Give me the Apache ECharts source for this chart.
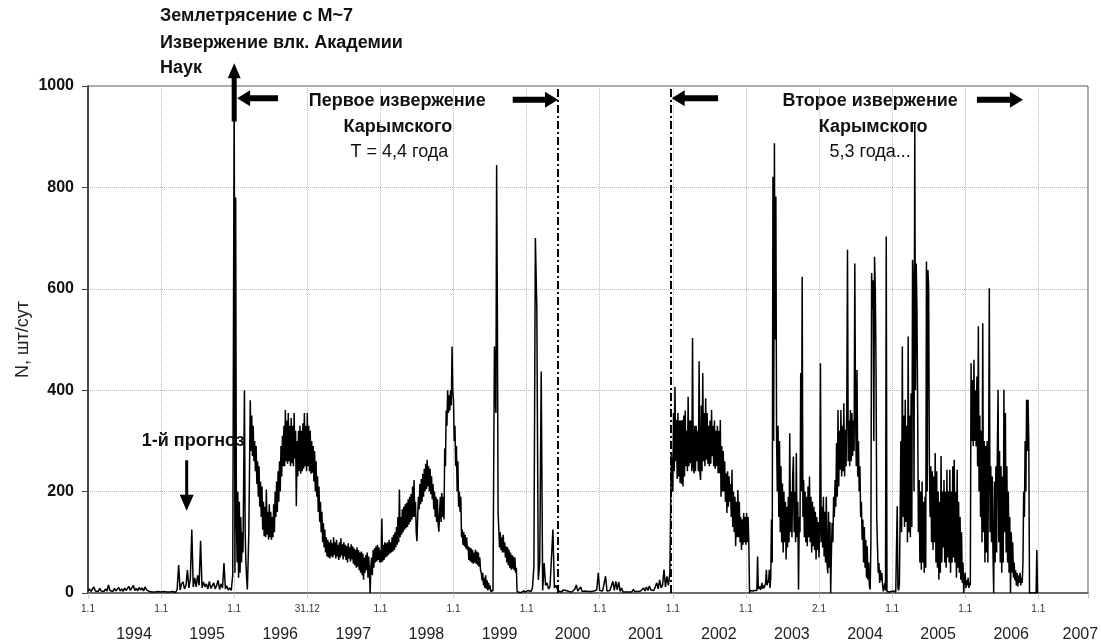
<!DOCTYPE html>
<html>
<head>
<meta charset="utf-8">
<script src="https://cdn.jsdelivr.net/npm/echarts@6/dist/echarts.min.js"></script>
<style>
  html, body { margin: 0; padding: 0; background: #fff; }
  #chart { width: 1101px; height: 643px; }
</style>
</head>
<body>
<div id="chart"></div>
<script>
// Number of events per day (N, шт/сут). One array per calendar year;
// samples are spread evenly over the year (50 per year in quiet years, 100 in active ones).
const n1994 = [4,8,3,6,12,4,7,3,9,4, 6,3,8,4,16,5,7,3,9,4, 6,11,4,8,3,10,5,4,13,5, 7,15,5,9,4,11,6,10,4,12, 6,9,3,5,2,1,2,1,3,6];
const n1995 = [2,1,3,1,2,1,2,1,3,2, 1,8,55,6,18,22,8,15,45,10, 28,125,12,30,12,35,15,103,10,22, 12,18,8,23,9,14,20,8,15,25, 7,18,10,59,8,14,6,10,5,36];
const n1996 = [
  1000,40,780,150,60,200,30,180,40,150,
  60,120,80,230,400,120,60,30,7,60,
  120,250,380,280,350,270,330,260,300,240,
  290,215,260,190,250,170,220,150,210,125,
  180,112,170,110,204,115,160,105,175,110,
  160,105,150,110,175,120,200,150,220,160,
  240,180,260,200,290,230,310,250,330,250,
  361,260,340,255,355,260,330,250,345,256,
  330,250,355,265,320,171,300,230,320,240,
  330,235,320,240,335,245,355,250,330,240];
const n1997 = [
  355,250,330,240,320,235,300,237,290,220,
  280,200,260,190,230,160,210,140,180,120,
  160,100,138,90,125,80,110,72,105,70,
  100,68,105,72,98,70,110,75,100,68,
  105,72,95,65,100,70,108,74,96,66,
  100,72,95,65,92,60,98,68,90,62,
  96,66,92,58,88,55,85,50,90,52,
  85,45,80,40,82,35,78,26,70,40,
  75,45,80,30,72,40,0,55,70,35,
  85,50,88,60,92,62,95,65,90,60];
const n1998 = [
  85,60,147,62,95,65,100,70,98,72,
  100,75,105,78,100,80,110,82,115,85,
  120,90,130,95,150,100,204,110,150,115,
  165,120,170,125,175,128,178,130,185,135,
  190,140,195,145,210,150,223,150,180,120,
  102,150,190,165,215,175,225,180,235,190,
  245,200,255,205,263,210,250,200,245,195,
  230,185,215,165,200,150,190,140,185,135,
  121,160,190,140,197,150,190,145,285,250,
  360,330,400,355,390,360,400,370,486,400];
const n1999 = [
  380,300,330,250,290,200,260,170,200,160,
  190,110,125,95,120,92,115,88,110,85,
  92,65,90,62,88,60,85,58,80,60,
  85,58,82,55,80,52,70,45,40,25,
  40,15,30,10,35,8,25,5,20,7,
  15,3,0,2,5,3,486,400,355,844,
  565,158,125,90,120,85,110,80,115,80,
  100,70,92,60,90,55,85,50,80,46,
  75,48,72,45,70,40,50,3,2,3,
  1,2,4,1,3,2,4,2,3,2];
const n2000 = [2,5,2,3,10,52,700,560,26,60, 437,5,59,15,20,8,12,10,125,10, 15,8,4,3,2,6,3,5,2,3, 4,2,3,8,16,4,3,12,3,2, 4,2,3,5,3,2,4,3,6,40];
const n2001 = [5,3,4,2,33,4,3,5,2,23, 5,23,6,22,3,10,2,3,2,4, 2,3,2,7,3,2,3,2,4,3, 10,4,12,5,14,6,8,5,12,20, 8,26,10,15,46,12,33,15,40,276];
const n2002 = [
  200,355,240,407,260,341,225,355,230,340,
  217,340,215,341,210,350,230,360,250,320,
  240,387,250,340,256,340,240,503,250,236,
  330,240,330,260,320,240,457,240,223,370,
  240,434,260,355,250,384,263,355,255,330,
  250,340,255,361,270,330,250,340,245,320,
  250,330,236,320,236,341,190,290,200,280,
  200,260,180,236,158,240,170,230,180,215,
  150,243,130,200,120,190,92,180,110,203,
  110,180,100,150,85,145,95,158,100,150];
const n2003 = [
  95,158,100,150,100,0,5,3,7,4,
  6,3,5,4,8,5,72,8,10,13,
  6,12,20,8,15,10,12,20,46,15,
  25,20,46,10,30,145,60,821,300,887,
  500,782,300,200,330,150,300,120,250,100,
  216,80,200,100,180,66,170,90,190,100,
  315,120,200,110,230,269,120,200,100,276,
  110,180,7,150,120,434,200,624,150,223,
  110,200,100,190,92,210,110,230,100,190,
  80,180,92,170,85,160,66,150,85,140];
const n2004 = [
  70,130,453,100,170,90,190,72,160,60,
  190,60,39,160,50,140,0,80,138,100,
  190,150,223,170,296,190,361,210,320,243,
  361,230,330,240,374,230,322,250,360,677,
  260,340,250,361,260,355,270,340,280,650,
  355,250,440,230,300,200,250,150,180,105,
  145,60,130,50,105,30,92,26,60,13,
  7,100,631,560,617,300,663,600,453,150,
  92,40,59,20,45,25,40,15,3,5,
  20,5,703,3,2,3,2,4,2,3];
const n2005 = [
  3,2,4,3,5,2,3,171,10,5,
  20,150,300,120,486,150,350,130,381,140,
  330,100,506,120,350,110,394,130,657,617,
  200,927,400,650,560,355,120,223,60,200,
  46,220,60,180,40,190,50,654,200,637,
  604,256,150,250,100,240,85,230,100,276,
  60,240,50,200,26,180,40,270,60,200,
  90,223,60,200,50,243,70,200,60,243,
  40,200,60,250,70,263,60,200,30,243,
  50,180,40,150,26,120,20,60,0,30];
const n2006 = [
  40,10,25,15,30,10,20,15,453,300,
  420,290,460,300,400,289,427,250,526,200,
  350,150,320,100,532,120,300,60,290,80,
  300,60,260,601,120,250,100,230,80,0,
  220,60,250,80,280,401,100,280,60,250,
  40,230,60,401,120,355,80,250,60,200,
  40,150,0,120,40,100,30,60,25,45,
  15,40,13,35,20,40,15,30,20,60,
  200,150,300,200,381,280,381,300,0,0,
  0,0,0,0,0,0,0,0,85,0];
const n2007 = [0];

// Tick labels at 1 January of each year (two years are marked by their actual day)
const tickYears = [1994,1995,1996,1997,1998,1999,2000,2001,2002,2003,2004,2005,2006,2007];
const dayLabels = ['1.1','1.1','1.1','31.12','1.1','1.1','1.1','1.1','1.1','1.1','2.1','1.1','1.1','1.1'];

// Boundaries of the two Karymsky eruption periods (decimal year)
const eruptionBounds = [2000.42, 2001.975];

const yearly = [
  [1994, n1994], [1995, n1995], [1996, n1996], [1997, n1997], [1998, n1998],
  [1999, n1999], [2000, n2000], [2001, n2001], [2002, n2002], [2003, n2003],
  [2004, n2004], [2005, n2005], [2006, n2006], [2007, n2007]
];
const seriesData = [];
yearly.forEach(([yr, arr]) => {
  const step = 1 / Math.max(arr.length, 50);
  arr.forEach((v, j) => seriesData.push([+(yr + j * step).toFixed(4), v]));
});

const FONT = '"Liberation Sans", Arial, sans-serif';
const isYear = v => Math.abs(v - Math.round(v)) < 1e-6;

const chart = echarts.init(document.getElementById('chart'), null, { renderer: 'canvas' });

const option = {
  animation: false,
  backgroundColor: '#fff',
  textStyle: { fontFamily: FONT },
  grid: {
    left: 88, top: 86, right: 13, bottom: 50,
    show: true, borderColor: '#555', borderWidth: 1,
    containLabel: false, outerBoundsMode: 'none'
  },
  xAxis: [
    {
      type: 'value', min: 1994, max: 2007.68, interval: 1,
      axisLine: { show: true, lineStyle: { color: '#555', width: 1.5 } },
      axisTick: { show: true, length: 5, lineStyle: { color: '#999', type: 'dotted' } },
      splitLine: { show: true, lineStyle: { color: '#b8b8b8', type: 'dotted', width: 1 } },
      axisLabel: {
        margin: 11, fontSize: 10, color: '#333', fontFamily: FONT,
        formatter: v => {
          if (!isYear(v)) return '';
          const i = tickYears.indexOf(Math.round(v));
          return i >= 0 ? dayLabels[i] : '';
        }
      }
    },
    {
      type: 'value', min: 1994, max: 2007.68, interval: 1, position: 'bottom',
      axisLine: { show: false }, axisTick: { show: false }, splitLine: { show: false },
      axisLabel: {
        margin: 34, fontSize: 16, color: '#222', fontFamily: FONT,
        formatter: v => {
          if (!isYear(v)) return '';
          const y = Math.round(v);
          return y === 2007 ? '{e|' + y + '}' : '{y|' + y + '}';
        },
        rich: {
          y: { fontSize: 16, color: '#222', fontFamily: FONT, padding: [0, 0, 0, 92] },
          e: { fontSize: 16, color: '#222', fontFamily: FONT, padding: [0, 0, 0, 84] }
        }
      }
    }
  ],
  yAxis: {
    type: 'value', min: 0, max: 1000, interval: 200,
    name: 'N, шт/сут', nameLocation: 'middle', nameGap: 56, nameMoveOverlap: false,
    nameTextStyle: { fontSize: 18, color: '#222', fontFamily: FONT },
    axisLine: { show: true, lineStyle: { color: '#222', width: 1.5 } },
    axisTick: { show: true, length: 6, lineStyle: { color: '#444' } },
    splitLine: { show: true, lineStyle: { color: '#b8b8b8', type: 'dotted', width: 1 } },
    axisLabel: {
      margin: 14, fontSize: 16, fontWeight: 'bold', color: '#111', fontFamily: FONT,
      formatter: v => String(v)
    }
  },
  series: [{
    type: 'line',
    data: seriesData,
    xAxisIndex: 0, yAxisIndex: 0,
    showSymbol: false, symbol: 'none',
    sampling: false,
    clip: true,
    lineStyle: { color: '#000', width: 1.5 },
    markLine: {
      silent: true, symbol: ['none', 'none'],
      label: { show: false },
      lineStyle: { color: '#000', width: 2, type: [8, 3, 2, 3] },
      data: eruptionBounds.map(x => ({ xAxis: x }))
    },
    z: 3
  }]
};
chart.setOption(option);

// Annotations placed in data coordinates
const notes = [
  { at: [1994.985, 1138], text: 'Землетрясение с М~7', bold: true, align: 'left' },
  { at: [1994.985, 1085], text: 'Извержение влк. Академии', bold: true, align: 'left' },
  { at: [1994.985, 1035], text: 'Наук', bold: true, align: 'left' },
  { at: [1998.23, 970], text: 'Первое извержение', bold: true },
  { at: [1998.24, 919], text: 'Карымского', bold: true },
  { at: [1998.26, 870], text: 'T = 4,4 года' },
  { at: [2004.70, 970], text: 'Второе извержение', bold: true },
  { at: [2004.74, 919], text: 'Карымского', bold: true },
  { at: [2004.70, 870], text: '5,3 года...' },
  { at: [1995.44, 300], text: '1-й прогноз', bold: true }
];
const arrows = [
  { tail: [1996.0, 930], tip: [1996.0, 1045], shaft: 5, head: 13, headLen: 15 },
  { tail: [1996.60, 976], tip: [1996.04, 976], shaft: 6, head: 16, headLen: 13 },
  { tail: [1999.81, 973], tip: [2000.43, 973], shaft: 6, head: 16, headLen: 13 },
  { tail: [2002.62, 976], tip: [2001.985, 976], shaft: 6, head: 16, headLen: 13 },
  { tail: [2006.16, 973], tip: [2006.79, 973], shaft: 6, head: 16, headLen: 13 },
  { tail: [1995.35, 262], tip: [1995.35, 162], shaft: 3, head: 14, headLen: 16 }
];

const toPx = p => chart.convertToPixel({ seriesIndex: 0 }, p);

function arrowPolygon(a) {
  const t0 = toPx(a.tail), t1 = toPx(a.tip);
  const dx = t1[0] - t0[0], dy = t1[1] - t0[1];
  const L = Math.hypot(dx, dy), ux = dx / L, uy = dy / L, nx = -uy, ny = ux;
  const bx = t1[0] - ux * a.headLen, by = t1[1] - uy * a.headLen;
  const s = a.shaft / 2, h = a.head / 2;
  return [
    [t0[0] + nx * s, t0[1] + ny * s], [bx + nx * s, by + ny * s], [bx + nx * h, by + ny * h],
    [t1[0], t1[1]],
    [bx - nx * h, by - ny * h], [bx - nx * s, by - ny * s], [t0[0] - nx * s, t0[1] - ny * s]
  ];
}

const graphics = [];
arrows.forEach(a => graphics.push({
  type: 'polygon', z: 50, silent: true,
  shape: { points: arrowPolygon(a) },
  style: { fill: '#000', stroke: null }
}));
notes.forEach(n => {
  const p = toPx(n.at);
  graphics.push({
    type: 'text', z: 60, silent: true, x: p[0], y: p[1],
    style: {
      text: n.text,
      fontFamily: FONT, fontSize: 18, fontWeight: n.bold ? 'bold' : 'normal',
      fill: '#111',
      align: n.align || 'center', textAlign: n.align || 'center',
      verticalAlign: 'middle', textVerticalAlign: 'middle'
    }
  });
});
chart.setOption({ graphic: graphics });
</script>
</body>
</html>
